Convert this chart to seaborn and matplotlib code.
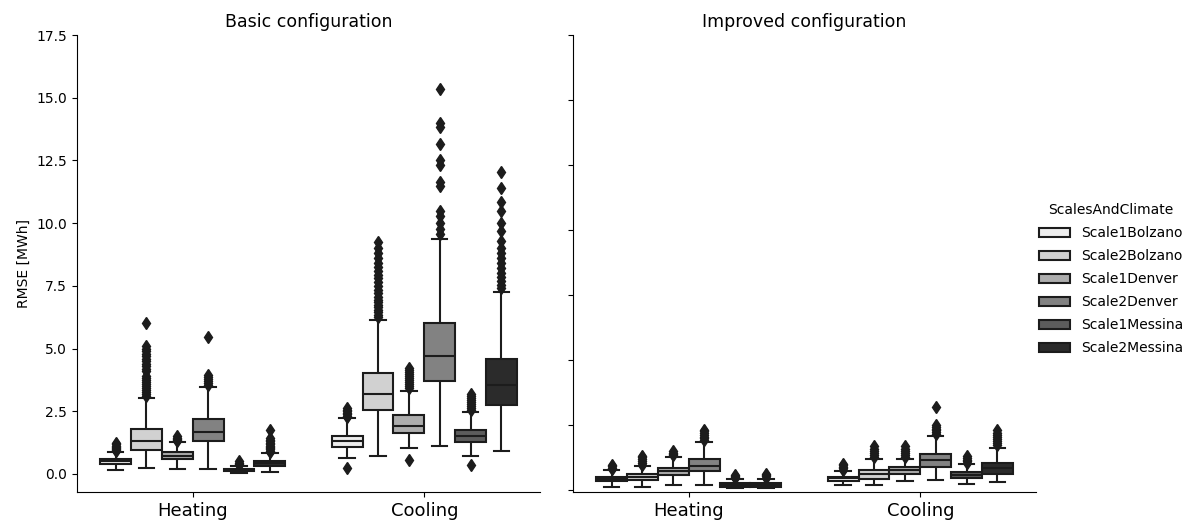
import seaborn as sns
import matplotlib.pyplot as plt
import numpy as np
import pandas as pd
from matplotlib.ticker import MultipleLocator

configs = ["Basic configuration", "Improved configuration"]
modes = ["Heating", "Cooling"]
scales = ["Scale1Bolzano", "Scale2Bolzano", "Scale1Denver",
          "Scale2Denver", "Scale1Messina", "Scale2Messina"]

# box summaries: [whisker low, q1, median, q3, whisker high]
basic_heating_stats = [
    [0.17, 0.38, 0.50, 0.58, 0.86],
    [0.24, 0.97, 1.33, 1.80, 3.03],
    [0.21, 0.60, 0.73, 0.87, 1.26],
    [0.20, 1.33, 1.66, 2.20, 3.48],
    [0.04, 0.10, 0.14, 0.20, 0.31],
    [0.08, 0.30, 0.42, 0.52, 0.84],
]
basic_cooling_stats = [
    [0.64, 1.06, 1.30, 1.53, 2.22],
    [0.73, 2.57, 3.19, 4.03, 6.13],
    [1.04, 1.64, 1.90, 2.34, 3.30],
    [1.13, 3.70, 4.72, 6.00, 9.38],
    [0.73, 1.28, 1.50, 1.77, 2.48],
    [0.90, 2.74, 3.56, 4.57, 7.25],
]
improved_heating_stats = [
    [0.10, 0.32, 0.40, 0.50, 0.75],
    [0.10, 0.38, 0.49, 0.60, 0.90],
    [0.19, 0.55, 0.71, 0.85, 1.26],
    [0.19, 0.73, 0.90, 1.18, 1.84],
    [0.06, 0.12, 0.18, 0.24, 0.40],
    [0.06, 0.11, 0.17, 0.24, 0.41],
]
improved_cooling_stats = [
    [0.17, 0.35, 0.43, 0.50, 0.70],
    [0.19, 0.42, 0.59, 0.74, 1.17],
    [0.32, 0.62, 0.77, 0.86, 1.19],
    [0.36, 0.88, 1.13, 1.38, 2.08],
    [0.23, 0.46, 0.57, 0.68, 0.98],
    [0.29, 0.62, 0.83, 1.03, 1.62],
]

# outlying points
basic_heating_fliers = [
    [0.90, 0.94, 0.98, 1.02, 1.07, 1.12, 1.18, 1.24],
    [3.10, 3.18, 3.26, 3.34, 3.42, 3.50, 3.58, 3.66, 3.74, 3.82, 3.90, 4.10,
     4.20, 4.30, 4.40, 4.50, 4.60, 4.70, 4.80, 4.90, 5.00, 5.09, 6.03],
    [1.30, 1.35, 1.40, 1.45, 1.50],
    [3.55, 3.62, 3.70, 3.78, 3.86, 3.94, 5.47],
    [0.37, 0.41, 0.45, 0.50],
    [0.88, 0.93, 0.98, 1.03, 1.08, 1.13, 1.18, 1.24, 1.30, 1.37, 1.45, 1.77],
]
basic_cooling_fliers = [
    [0.24, 2.26, 2.32, 2.38, 2.44, 2.50, 2.57, 2.64],
    [6.25, 6.35, 6.45, 6.55, 6.65, 6.75, 6.85, 6.95, 7.05, 7.20, 7.35, 7.50,
     7.65, 7.80, 7.95, 8.10, 8.25, 8.40, 8.60, 8.80, 9.00, 9.25],
    [0.55, 3.42, 3.50, 3.58, 3.66, 3.74, 3.82, 3.90, 3.98, 4.06, 4.14, 4.22],
    [9.55, 9.75, 10.0, 10.3, 10.5, 11.5, 11.65, 12.3, 12.5, 13.15, 13.85,
     14.0, 15.34],
    [0.37, 2.54, 2.62, 2.70, 2.78, 2.86, 2.94, 3.02, 3.10, 3.20],
    [7.40, 7.55, 7.70, 7.85, 8.00, 8.20, 8.40, 8.60, 8.80, 9.00, 9.30, 9.70,
     10.0, 10.5, 10.86, 11.4, 12.02],
]
improved_heating_fliers = [
    [0.80, 0.85, 0.90, 0.95],
    [0.96, 1.03, 1.10, 1.17, 1.24, 1.30],
    [1.33, 1.38, 1.43, 1.49],
    [1.90, 1.97, 2.04, 2.11, 2.18, 2.25, 2.31],
    [0.45, 0.50, 0.54, 0.58],
    [0.46, 0.51, 0.56, 0.60],
]
improved_cooling_fliers = [
    [0.76, 0.82, 0.88, 0.94, 1.00],
    [1.26, 1.34, 1.42, 1.50, 1.58, 1.67],
    [1.26, 1.34, 1.42, 1.50, 1.58, 1.67],
    [2.16, 2.22, 2.28, 2.34, 2.40, 2.48, 3.18],
    [1.04, 1.10, 1.16, 1.22, 1.28],
    [1.70, 1.78, 1.86, 1.94, 2.02, 2.10, 2.18, 2.29],
]

groups = [
    ("Basic configuration", "Heating", basic_heating_stats, basic_heating_fliers),
    ("Basic configuration", "Cooling", basic_cooling_stats, basic_cooling_fliers),
    ("Improved configuration", "Heating", improved_heating_stats, improved_heating_fliers),
    ("Improved configuration", "Cooling", improved_cooling_stats, improved_cooling_fliers),
]

# turn each summary into a sample whose boxplot reproduces it
rows = []
for config, mode, stats, fliers in groups:
    for scale, st, fl in zip(scales, stats, fliers):
        lo, q1, med, q3, hi = st
        values = [lo] + [q1] * 100 + [med] * 100 + [q3] * 100 + [hi] + fl
        for v in values:
            rows.append((config, mode, scale, v))
df = pd.DataFrame(rows, columns=["Config", "Mode", "ScalesAndClimate", "RMSE"])

dark = "#1c1c1c"
g = sns.catplot(data=df, x="Mode", y="RMSE", hue="ScalesAndClimate",
                col="Config", kind="box", palette="Greys", sharey=False,
                order=modes, hue_order=scales, col_order=configs,
                linewidth=1.5, linecolor=dark,
                flierprops=dict(marker="d", markersize=6.5,
                                markerfacecolor=dark, markeredgecolor=dark))

g.figure.set_size_inches(11.95, 5.23)
g.figure.subplots_adjust(left=0.0644, right=0.867, bottom=0.059, top=0.933,
                         wspace=0.071)
g.set_titles("{col_name}", size=12.5)

for i, ax in enumerate(g.axes.flat):
    ax.set_ylim(top=17.5)
    ax.yaxis.set_major_locator(MultipleLocator(2.5))
    ax.set_xlabel("")
    ax.tick_params(axis="x", labelsize=13)
    ax.tick_params(axis="y", labelsize=10)
    if i == 0:
        ax.set_ylabel("RMSE [MWh]", fontsize=10)
    else:
        ax.set_ylabel("")
        ax.tick_params(labelleft=False)

sns.move_legend(g, "center left", bbox_to_anchor=(0.859, 0.466), frameon=False,
                labelspacing=0.65, handlelength=2.2, fontsize=10,
                title_fontsize=10)

plt.savefig("out.png", dpi=100)
